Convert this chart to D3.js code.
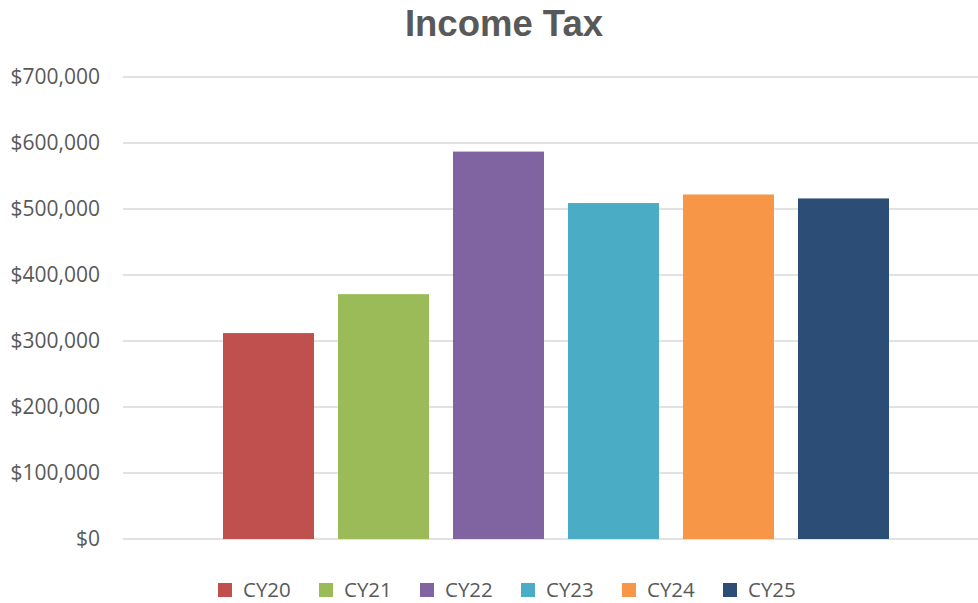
<!DOCTYPE html>
<html>
<head>
<meta charset="utf-8">
<script src="https://cdn.jsdelivr.net/npm/d3@7"></script>
<style>
  body { margin: 0; background: #fff; }
</style>
</head>
<body>
<div id="chart"></div>
<script>
// -------------------- DATA --------------------
const categories = ["CY20", "CY21", "CY22", "CY23", "CY24", "CY25"];
const values = [312000, 371000, 587000, 509000, 522000, 516000];
const colors = ["#C0504D", "#9BBB59", "#8064A2", "#4BACC6", "#F79646", "#2C4E76"];
const yTicks = [0, 100000, 200000, 300000, 400000, 500000, 600000, 700000];

// -------------------- CHART --------------------
const width = 978, height = 603;
const margin = { top: 77, right: 0, bottom: 64, left: 123 };
const fontFamily = "'Open Sans', 'DejaVu Sans', sans-serif";
const textColor = "#595959";

const svg = d3.select("#chart")
    .append("svg")
    .attr("width", width)
    .attr("height", height)
    .attr("viewBox", [0, 0, width, height]);

let y = d3.scaleLinear()
    .domain([0, 700000])
    .range([height - margin.bottom, margin.top]);

// bars sit in their own band range inside the plot area
let x = d3.scaleBand()
    .domain(categories)
    .range([211, 901])
    .paddingInner(24 / 115)
    .paddingOuter(12 / 115);

// title
svg.append("text")
    .attr("x", 504)
    .attr("y", 36)
    .attr("text-anchor", "middle")
    .attr("font-family", "'Liberation Sans', Arial, sans-serif")
    .attr("font-weight", "bold")
    .attr("font-size", 36.5)
    .attr("fill", textColor)
    .text("Income Tax");

// gridlines
svg.append("g")
    .selectAll("line")
    .data(yTicks)
    .join("line")
    .attr("x1", margin.left)
    .attr("x2", width - margin.right)
    .attr("y1", d => y(d))
    .attr("y2", d => y(d))
    .attr("stroke", "#d9d9d9")
    .attr("stroke-width", 1.5);

// y axis labels
let yAxis = g => g
    .attr("transform", `translate(${margin.left},0)`)
    .call(d3.axisLeft(y).tickValues(yTicks).tickFormat(d3.format("$,.0f")).tickSize(0).tickPadding(23))
    .call(g => g.select(".domain").remove());

svg.append("g")
    .call(yAxis)
    .call(g => g.selectAll("text")
        .attr("font-family", fontFamily)
        .attr("font-size", 21)
        .attr("fill", textColor));

// bars
svg.append("g")
    .selectAll("rect")
    .data(values)
    .join("rect")
    .attr("fill", (d, i) => colors[i])
    .attr("x", (d, i) => x(categories[i]))
    .attr("y", d => y(d))
    .attr("width", x.bandwidth())
    .attr("height", d => y(0) - y(d));

// legend
const legend = svg.append("g")
    .attr("transform", "translate(218,590)")
    .selectAll("g")
    .data(categories)
    .join("g")
    .attr("transform", (d, i) => `translate(${i * 101},0)`);

legend.append("rect")
    .attr("x", 0)
    .attr("y", -7)
    .attr("width", 14)
    .attr("height", 14)
    .attr("fill", (d, i) => colors[i]);

legend.append("text")
    .attr("x", 25)
    .attr("y", 0)
    .attr("dy", "0.35em")
    .attr("font-family", fontFamily)
    .attr("font-size", 20.5)
    .attr("fill", textColor)
    .text(d => d);
</script>
</body>
</html>
